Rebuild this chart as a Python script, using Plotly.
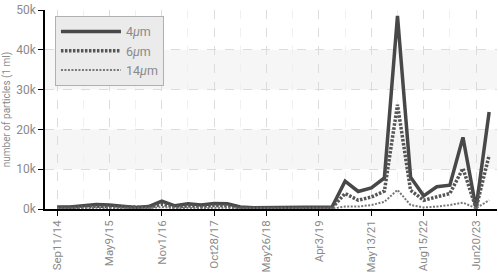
import plotly.graph_objects as go

# ---- data (values in particles per 1 ml) ----
tick_labels = ["Sep11/14", "May9/15", "Nov1/16", "Oct28/17", "May26/18",
               "Apr3/19", "May13/21", "Aug15/22", "Jun20/23"]
label_every = 4

s4 = [500, 500, 800, 1100, 1000, 600, 400, 600, 2000, 800, 1300, 1000, 1400, 1300,
      500, 300, 300, 300, 300, 300, 400, 500, 7000, 4400, 5300, 7800, 48500, 8000,
      3300, 5600, 6000, 18000, 200, 24400]
s6 = [300, 300, 500, 700, 600, 400, 300, 400, 1200, 500, 800, 600, 900, 800,
      300, 200, 200, 200, 200, 200, 200, 300, 3900, 2200, 3000, 4500, 26200, 4700,
      2200, 3100, 3900, 10200, 200, 13500]
s14 = [100, 100, 200, 300, 300, 200, 100, 200, 500, 200, 300, 200, 300, 300,
       100, 100, 100, 100, 100, 100, 100, 100, 600, 600, 1000, 1800, 4800, 1000,
       400, 600, 1000, 1600, 200, 2200]
series_names = ["4<i>µ</i>m", "6<i>µ</i>m", "14<i>µ</i>m"]

y_ticks = [0, 10000, 20000, 30000, 40000, 50000]
y_tick_labels = ["0k", "10k", "20k", "30k", "40k", "50k"]

idx = list(range(len(s4)))
tick_pos = idx[::label_every]

FONT = "Roboto, Liberation Sans, sans-serif"
GREY = "#8a8a8a"

fig = go.Figure()
fig.add_trace(go.Scatter(x=idx, y=s4, name=series_names[0], mode="lines",
                         line=dict(color="#484848", width=3.5)))
fig.add_trace(go.Scatter(x=idx, y=s6, name=series_names[1], mode="lines",
                         line=dict(color="#555555", width=3.5, dash="2.5px,1.5px")))
fig.add_trace(go.Scatter(x=idx, y=s14, name=series_names[2], mode="lines",
                         line=dict(color="#777777", width=2, dash="2px,1.5px")))

# alternating background bands
for lo, hi in [(10000, 20000), (30000, 40000)]:
    fig.add_shape(type="rect", xref="paper", x0=0, x1=1, yref="y", y0=lo, y1=hi,
                  fillcolor="#f6f6f6", line=dict(width=0), layer="below")

fig.update_layout(
    width=498, height=278,
    margin=dict(l=45, r=1, t=10, b=69),
    paper_bgcolor="white", plot_bgcolor="white",
    font=dict(family=FONT, color=GREY, size=12),
    showlegend=True,
    legend=dict(x=0.022, y=0.97, xanchor="left", yanchor="top",
                bgcolor="#ebebeb", bordercolor="#b0b0b0", borderwidth=1,
                font=dict(size=12.5, color=GREY, family=FONT),
                tracegroupgap=0, itemwidth=60),
)
fig.update_xaxes(
    range=[-0.92, 33.6], automargin=False,
    tickmode="array", tickvals=tick_pos, ticktext=tick_labels,
    tickangle=-90, ticks="outside", ticklen=5, tickcolor="black",
    showline=True, linecolor="black", linewidth=1.5,
    showgrid=True, gridcolor="#dcdcdc", griddash="dash", gridwidth=1,
    minor=dict(tickvals=[p + 2 for p in tick_pos], showgrid=True,
               gridcolor="#f0f0f0", griddash="dash", ticks=""),
    zeroline=False,
    tickfont=dict(size=11.5, color=GREY, family=FONT),
)
fig.update_yaxes(
    range=[0, 50000], automargin=False,
    tickmode="array", tickvals=y_ticks, ticktext=y_tick_labels,
    ticks="outside", ticklen=5, tickcolor="black",
    showline=True, linecolor="black", linewidth=1.5,
    showgrid=True, gridcolor="#dcdcdc", griddash="dash", gridwidth=1,
    zeroline=False,
    title=dict(text="number of particles (1 ml)", font=dict(size=10, color=GREY, family=FONT), standoff=4),
    tickfont=dict(size=12, color=GREY, family=FONT),
)

fig.write_html("out.html", config={"displayModeBar": False},
               post_script="document.body.style.margin='0';document.body.style.overflow='hidden';")
